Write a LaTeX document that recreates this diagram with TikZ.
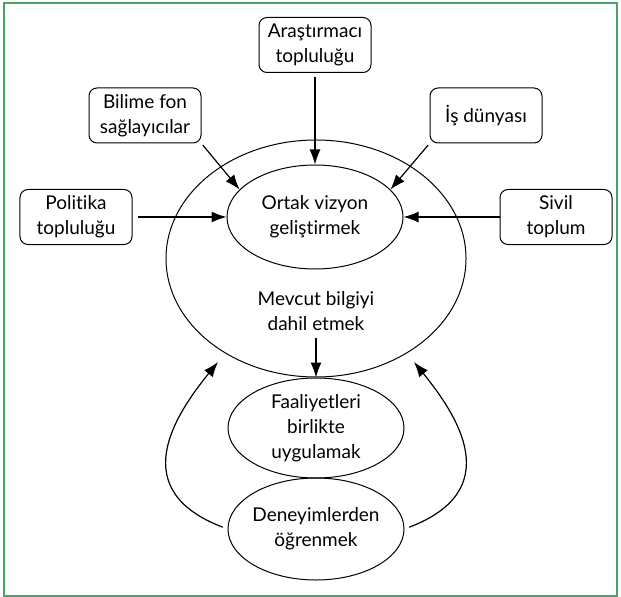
\documentclass[tikz,border=0pt]{standalone}
\usepackage{fontspec}
\setmainfont{Lato}[Ligatures=NoCommon]
\usepackage{tikz}
\usetikzlibrary{shapes.geometric,arrows.meta}
\definecolor{cerceve}{RGB}{72,165,100}

\begin{document}
\begin{tikzpicture}[x=0.5bp,y=-0.5bp,line width=0.5bp,
  font=\fontsize{9.5bp}{12.5bp}\selectfont,
  kutu/.style={draw,rounded corners=4bp,align=center,minimum width=56bp,minimum height=27.5bp,inner sep=1bp},
  elips/.style={draw,ellipse,align=center,minimum width=88bp,minimum height=51bp,inner sep=0pt},
  ok/.style={-{Latex[length=7.5bp,width=5.5bp]},line width=0.6bp}]
\useasboundingbox (0,0) rectangle (621,597);
\draw[cerceve,line width=1bp] (4,3) rectangle (617,596);
\node[kutu] (arastirma) at (315,45) {Araştırmacı\\topluluğu};
\node[kutu] (bilime) at (145,115.5) {Bilime fon\\sağlayıcılar};
\node[kutu] (is) at (486,115.5) {İş dünyası};
\node[kutu] (politika) at (76,217) {Politika\\topluluğu};
\node[kutu] (sivil) at (556,217) {Sivil\\toplum};
\node[elips,minimum width=150bp,minimum height=118.5bp] (dis) at (316,258.5) {};
\node[elips,minimum height=52bp] (ortak) at (315,217) {Ortak vizyon\\geliştirmek};
\node[align=center] (mevcut) at (316,311) {Mevcut bilgiyi\\dahil etmek};
\node[elips,minimum height=50bp] (faal) at (316,428) {Faaliyetleri\\birlikte\\uygulamak};
\node[elips,inner xsep=-4bp] (deneyim) at (316,529) {Deneyimlerden\\öğrenmek};
\coordinate (sol) at (218,362);
\coordinate (sag) at (414,362);
\draw[ok,shorten <=2bp] (arastirma) -- (ortak);
\draw[ok,shorten <=1bp] (bilime.south east) -- (ortak.160);
\draw[ok,shorten <=1bp] (is.south west) -- (ortak.20);
\draw[ok,shorten <=2.5bp] (politika) -- (ortak);
\draw[ok] (sivil) -- (ortak);
\draw[ok] (mevcut) -- (faal);
\draw[ok,shorten <=2.5bp] (deneyim.west) .. controls (125,490) and (175,415) .. (sol);
\draw[ok,shorten <=2.5bp] (deneyim.east) .. controls (507,490) and (457,415) .. (sag);
\end{tikzpicture}
\end{document}
